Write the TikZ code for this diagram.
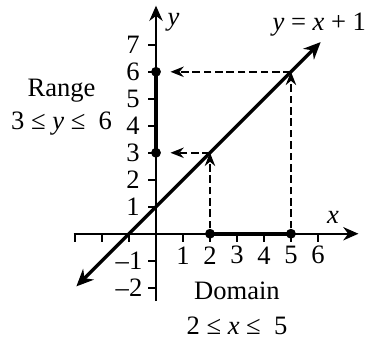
\documentclass[tikz,border=0pt]{standalone}
\usepackage{fontspec}
\setmainfont{Liberation Serif}
\usetikzlibrary{arrows.meta}
\begin{document}
\begin{tikzpicture}[x=0.5cm,y=0.5cm,font=\fontsize{14}{16}\selectfont,
  axisline/.style={line width=1.2pt,-{Stealth[length=8pt,width=7pt]}},
  tickline/.style={line width=1pt},
  thickseg/.style={line width=2.2pt},
  mainline/.style={line width=1.7pt,{Stealth[length=9pt,width=8pt]}-{Stealth[length=9pt,width=8pt]}},
  dasharrow/.style={line width=0.9pt,dash pattern=on 4pt off 2pt,-{Stealth[length=7pt,width=5.5pt]}},
  dot/.style={circle,fill=black,inner sep=0pt,minimum size=5.2pt}]
\useasboundingbox (-5.78,-3.85) rectangle (8.04,8.66);
% axes
\coordinate (xl) at (-3.05,0); \coordinate (xr) at (7.5,0);
\coordinate (yb) at (0,-2.5); \coordinate (yt) at (0,8.45);
\draw[axisline] (xl) -- (xr);
\draw[axisline] (yb) -- (yt);
% ticks
\foreach \k in {-3,-2,-1,1,2,3,4,5,6} \draw[tickline] (\k,0) -- (\k,-0.3);
\foreach \k in {-2,-1,1,2,3,4,5,6,7} \draw[tickline] (0,\k) -- (-0.3,\k);
% tick labels
\foreach \k in {1,...,6} \node (xt\k) at (\k,-0.8) {\k};
\foreach \k in {1,...,7} \node (yt\k) at (-0.85,\k) {\k};
\node (ytm1) at (-1.0,-1) {\textendash1};
\node (ytm2) at (-1.0,-2) {\textendash2};
% thick segments
\draw[thickseg] (0,3) -- (0,6);
\draw[thickseg] (2,0) -- (5,0);
% dots
\node[dot] (r3) at (0,3) {};
\node[dot] (r6) at (0,6) {};
\node[dot] (d2) at (2,0) {};
\node[dot] (d5) at (5,0) {};
% points on the line
\coordinate (a) at (2,3);
\coordinate (b) at (5,6);
% main line
\coordinate (l1) at (-2.95,-1.95);
\coordinate (l2) at (6.1,7.1);
\draw[mainline] (l1) -- (l2);
% dashed arrows
\draw[dasharrow] (d2) -- (a);
\draw[dasharrow] (d5) -- (b);
\draw[dasharrow,shorten >=0.17cm] (a) -- (r3);
\draw[dasharrow,shorten >=0.17cm] (b) -- (r6);
% labels
\node (ylab) at (0.65,7.85) {\textit{y}};
\node (xlab) at (6.56,0.6) {\textit{x}};
\node (eq) at (6.05,7.75) {\textit{y} = \textit{x} + 1};
\node (range) at (-3.5,5.3) {Range};
\node (rangeineq) at (-3.5,4.08) {3 ≤ \textit{y} ≤\ \ 6};
\node (domain) at (3.0,-2.1) {Domain};
\node (domineq) at (3.0,-3.4) {2 ≤ \textit{x} ≤\ \ 5};
\end{tikzpicture}
\end{document}
